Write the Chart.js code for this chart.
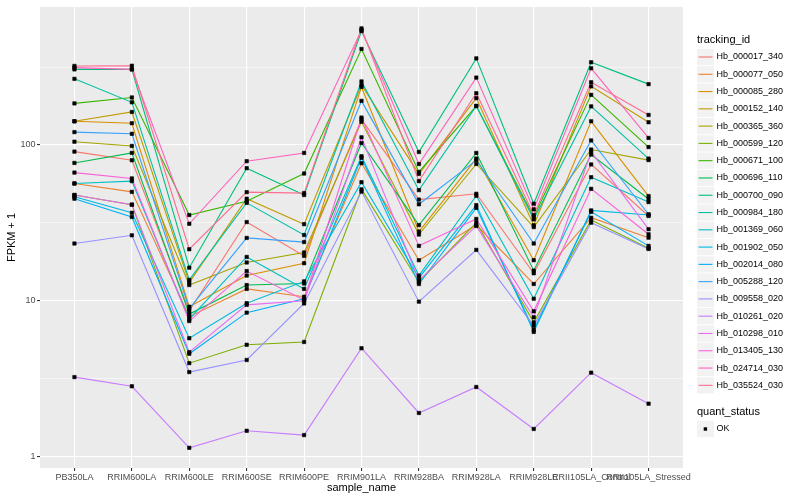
<!DOCTYPE html>
<html>
<head>
<meta charset="utf-8">
<script src="https://cdn.jsdelivr.net/npm/chart.js@4/dist/chart.umd.min.js"></script>
<style>
  body { margin: 0; background: #fff; }
  #wrap { width: 800px; height: 500px; }
</style>
</head>
<body>
<div id="wrap"><canvas id="fpkmChart"></canvas></div>
<script>
// samples on the x axis
const samples = ['PB350LA', 'RRIM600LA', 'RRIM600LE', 'RRIM600SE', 'RRIM600PE', 'RRIM901LA',
    'RRIM928BA', 'RRIM928LA', 'RRIM928LE', 'RRII105LA_Control', 'RRII105LA_Stressed'];

const trackingIds = ['Hb_000017_340', 'Hb_000077_050', 'Hb_000085_280', 'Hb_000152_140', 'Hb_000365_360',
    'Hb_000599_120', 'Hb_000671_100', 'Hb_000696_110', 'Hb_000700_090', 'Hb_000984_180',
    'Hb_001369_060', 'Hb_001902_050', 'Hb_002014_080', 'Hb_005288_120', 'Hb_009558_020',
    'Hb_010261_020', 'Hb_010298_010', 'Hb_013405_130', 'Hb_024714_030', 'Hb_035524_030'];

// ggplot default hue palette for 20 levels
const colors = ['#F8766D', '#EA8331', '#D89000', '#C09B00', '#A3A500', '#7CAE00', '#39B600', '#00BB4E',
    '#00BF7D', '#00C1A3', '#00BFC4', '#00BAE0', '#00B0F6', '#35A2FF', '#9590FF', '#C77CFF',
    '#E76BF3', '#FA62DB', '#FF62BC', '#FF6C91'];

// FPKM + 1, one array per gene, in sample order
const hb000017 = [90.7, 79.8, 8.6, 32, 19.4, 146, 44.6, 48.6, 15.0, 75, 35];
const hb000077 = [56.6, 50, 7.9, 11.9, 10.6, 76.4, 18.2, 30.6, 12.8, 34.1, 25.4];
const hb000085 = [142, 138, 9.15, 14.5, 17.4, 236, 27.8, 81.8, 18.2, 142, 47];
const hb000152 = [142, 163, 13.1, 45.2, 31, 243, 65.2, 200, 30.5, 238, 140];
const hb000365 = [105, 98.6, 12.6, 17.6, 20.4, 141, 26.6, 75.5, 29.7, 93.5, 80];
const hb000599 = [47.7, 41.4, 3.97, 5.21, 5.43, 51.9, 13.2, 31.7, 7.26, 33, 21.7];
const hb000671 = [185, 202, 35.5, 43.5, 65.6, 414, 67.1, 178, 34.5, 210, 97];
const hb000696 = [76.7, 89, 8.2, 12.6, 12.9, 103, 30.6, 88.9, 15.6, 86.8, 45];
const hb000700 = [306, 306, 16.3, 71, 47.7, 539, 90.2, 360, 42, 340, 246];
const hb000984 = [266, 188, 13.6, 42.5, 26.4, 256, 51.3, 178, 33.3, 177, 81.8];
const hb001369 = [56.6, 58.6, 7.6, 19.1, 11.9, 84.7, 14.5, 47.2, 10.3, 62.1, 43];
const hb001902 = [46.5, 36.7, 5.74, 9.64, 13.3, 57.7, 14.0, 41.1, 6.3, 38, 35.5];
const hb002014 = [45.2, 34.5, 4.56, 8.38, 10.3, 82.7, 12.8, 39.5, 6.5, 37.2, 22.5];
const hb005288 = [121, 118, 8.9, 25.3, 23.8, 192, 41.6, 79.9, 23.3, 107, 35.9];
const hb009558 = [23.3, 26.3, 3.48, 4.16, 9.6, 50.2, 9.86, 21.2, 6.9, 31.7, 21.5];
const hb010261 = [3.23, 2.82, 1.135, 1.46, 1.37, 4.95, 1.9, 2.79, 1.5, 3.45, 2.18];
const hb010298 = [47.7, 41.4, 4.67, 9.4, 10.0, 112, 13.5, 30.2, 7.82, 90.2, 28.8];
const hb013405 = [66.5, 61, 7.4, 15.5, 10.1, 150, 22.5, 33.5, 8.55, 52.3, 26.7];
const hb024714 = [314, 306, 31.2, 78.7, 88.9, 547, 75.5, 271, 38.6, 311, 111];
const hb035524 = [322, 323, 21.4, 49.8, 49.1, 561, 58.6, 215, 35.5, 253, 156];

const fpkm = [hb000017, hb000077, hb000085, hb000152, hb000365, hb000599, hb000671, hb000696,
    hb000700, hb000984, hb001369, hb001902, hb002014, hb005288, hb009558, hb010261,
    hb010298, hb013405, hb024714, hb035524];

// log axis ticks: labelled decades plus the minor half-decade lines
const yLabelTicks = [1, 10, 100];
const yGridTicks = [1, Math.sqrt(10), 10, Math.sqrt(1000), 100, Math.sqrt(100000)];

const FONT = '"Liberation Sans", Arial, Helvetica, sans-serif';

const toPoints = (vals) => vals.map((v, i) => ({ x: i, y: v }));

const lineSets = fpkm.map((vals, i) => ({
    label: trackingIds[i],
    data: toPoints(vals),
    borderColor: colors[i],
    backgroundColor: colors[i],
    borderWidth: 1.1,
    pointRadius: 0,
    tension: 0,
    order: 100 - i
}));

const pointSets = fpkm.map((vals, i) => ({
    label: trackingIds[i] + ' OK',
    data: toPoints(vals),
    showLine: false,
    pointStyle: 'rect',
    pointRadius: 2.4,
    pointBorderWidth: 0.6,
    pointBorderColor: '#000',
    pointBackgroundColor: '#000',
    order: 0
}));

// grey panel behind the grid
const panelBg = {
    id: 'panelBg',
    beforeDraw(chart) {
        const { ctx, chartArea: a } = chart;
        ctx.save();
        ctx.fillStyle = '#EBEBEB';
        ctx.fillRect(a.left, a.top, a.right - a.left, a.bottom - a.top);
        ctx.restore();
    }
};

// ggplot-style legend on the right
const ggLegend = {
    id: 'ggLegend',
    afterDraw(chart) {
        const ctx = chart.ctx;
        const x0 = 697, rowH = 17.28, y0 = 57;
        ctx.save();
        ctx.textBaseline = 'middle';
        ctx.textAlign = 'left';
        ctx.fillStyle = '#000';
        ctx.font = '11px ' + FONT;
        ctx.fillText('tracking_id', x0, 40);
        ctx.font = '9px ' + FONT;
        trackingIds.forEach((id, i) => {
            const cy = y0 + i * rowH;
            ctx.fillStyle = '#F2F2F2';
            ctx.fillRect(x0, cy - rowH / 2 + 0.5, 17, rowH - 1);
            ctx.strokeStyle = colors[i];
            ctx.lineWidth = 1.1;
            ctx.beginPath();
            ctx.moveTo(x0 + 1.5, cy);
            ctx.lineTo(x0 + 15.5, cy);
            ctx.stroke();
            ctx.fillStyle = '#000';
            ctx.fillText(id, x0 + 19.5, cy);
        });
        ctx.font = '11px ' + FONT;
        ctx.fillText('quant_status', x0, 412);
        ctx.fillStyle = '#F2F2F2';
        ctx.fillRect(x0, 429 - rowH / 2 + 0.5, 17, rowH - 1);
        ctx.fillStyle = '#000';
        ctx.fillRect(x0 + 6.7, 427.3, 3.4, 3.4);
        ctx.font = '9px ' + FONT;
        ctx.fillText('OK', x0 + 19.5, 429);
        ctx.restore();
    }
};

const ctx = document.getElementById('fpkmChart').getContext('2d');
new Chart(ctx, {
    type: 'line',
    data: { datasets: lineSets.concat(pointSets) },
    options: {
        responsive: true,
        maintainAspectRatio: false,
        animation: false,
        layout: { padding: { top: 5, right: 117, left: 0, bottom: 0 } },
        plugins: {
            legend: { display: false },
            tooltip: { enabled: false }
        },
        scales: {
            x: {
                type: 'linear',
                min: -0.6,
                max: 10.6,
                afterBuildTicks: (scale) => {
                    scale.ticks = samples.map((s, i) => ({ value: i }));
                },
                afterFit: (scale) => { scale.height = 32; },
                border: { display: false },
                grid: {
                    color: '#FFFFFF',
                    lineWidth: 1.1,
                    tickLength: 3,
                    tickColor: '#333333',
                    tickWidth: 1.1
                },
                ticks: {
                    autoSkip: false,
                    maxRotation: 0,
                    minRotation: 0,
                    padding: 1,
                    color: '#4D4D4D',
                    font: { family: FONT, size: 9 },
                    callback: (v) => samples[v]
                },
                title: {
                    display: true,
                    text: 'sample_name',
                    color: '#000',
                    font: { family: FONT, size: 11 },
                    padding: { top: 0, bottom: 5 }
                }
            },
            y: {
                type: 'logarithmic',
                min: 0.842,
                max: 771,
                afterBuildTicks: (scale) => {
                    scale.ticks = yGridTicks.map(v => ({ value: v }));
                },
                afterFit: (scale) => { scale.width = 40; },
                border: { display: false },
                grid: {
                    color: '#FFFFFF',
                    lineWidth: (c) => yLabelTicks.includes(c.tick && c.tick.value) ? 1.1 : 0.55,
                    tickLength: 3,
                    tickColor: (c) => yLabelTicks.includes(c.tick && c.tick.value) ? '#333333' : 'rgba(0,0,0,0)',
                    tickWidth: 1.1
                },
                ticks: {
                    padding: 1.5,
                    color: '#4D4D4D',
                    font: { family: FONT, size: 9 },
                    callback: (v) => yLabelTicks.includes(v) ? String(v) : ''
                },
                title: {
                    display: true,
                    text: 'FPKM + 1',
                    color: '#000',
                    font: { family: FONT, size: 11 },
                    padding: { top: 5, bottom: 0 }
                }
            }
        }
    },
    plugins: [panelBg, ggLegend]
});
</script>
</body>
</html>
